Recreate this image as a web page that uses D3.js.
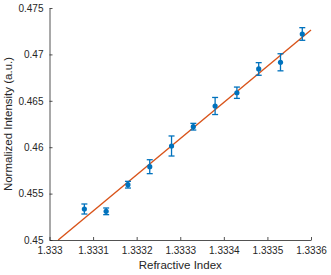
<!DOCTYPE html>
<html>
<head>
<meta charset="utf-8">
<script src="https://cdn.jsdelivr.net/npm/d3@7"></script>
<style>
  body { margin: 0; background: #fff; }
  svg { display: block; font-family: "Liberation Sans", Arial, sans-serif; }
  .axis path, .axis line { stroke: #262626; }
  .axis text { fill: #262626; font-size: 10px; }
  .label { fill: #262626; font-size: 11.5px; }
</style>
</head>
<body>
<div class="chart-container"></div>
<script>
// measured data
var refIndex = [1.33308, 1.33313, 1.33318, 1.33323, 1.33328, 1.33333, 1.33338, 1.33343, 1.33348, 1.33353, 1.33358];
var intensity = [0.45334, 0.45309, 0.45596, 0.45790, 0.46013, 0.46221, 0.46444, 0.46587, 0.46843, 0.46915, 0.47220];
var errors = [0.00054, 0.00036, 0.00036, 0.00075, 0.00108, 0.00036, 0.00092, 0.00061, 0.00068, 0.00092, 0.00068];

// linear fit endpoints
var fitX = [1.33302, 1.3336];
var fitY = [0.45, 0.47263];

var xTicks = [1.333, 1.3331, 1.3332, 1.3333, 1.3334, 1.3335, 1.3336];
var yTicks = [0.45, 0.455, 0.46, 0.465, 0.47, 0.475];

var width = 331;
var height = 275;
var margin = { top: 8, right: 20, bottom: 35, left: 49.5 };

var svg = d3.select('.chart-container').append('svg')
  .attr('width', width)
  .attr('height', height);

var x = d3.scaleLinear()
  .domain([1.333, 1.3336])
  .range([margin.left, width - margin.right]);

var y = d3.scaleLinear()
  .domain([0.45, 0.475])
  .range([height - margin.bottom, margin.top]);

// fit line
var line = d3.line()
  .x(function (d) { return x(d[0]); })
  .y(function (d) { return y(d[1]); });

svg.append('path')
  .datum(fitX.map(function (v, i) { return [v, fitY[i]]; }))
  .attr('d', line)
  .attr('fill', 'none')
  .attr('stroke', '#D95319')
  .attr('stroke-width', 1.4);

// error bars
var pts = refIndex.map(function (v, i) {
  return { x: v, y: intensity[i], e: errors[i] };
});

var eb = svg.append('g')
  .attr('stroke', '#0072BD')
  .attr('stroke-width', 1.3);

eb.selectAll('.vbar')
  .data(pts)
  .enter().append('line')
    .attr('x1', function (d) { return x(d.x); })
    .attr('x2', function (d) { return x(d.x); })
    .attr('y1', function (d) { return y(d.y - d.e); })
    .attr('y2', function (d) { return y(d.y + d.e); });

[-1, 1].forEach(function (s) {
  eb.selectAll('.cap' + s)
    .data(pts)
    .enter().append('line')
      .attr('x1', function (d) { return x(d.x) - 3; })
      .attr('x2', function (d) { return x(d.x) + 3; })
      .attr('y1', function (d) { return y(d.y + s * d.e); })
      .attr('y2', function (d) { return y(d.y + s * d.e); });
});

svg.append('g').selectAll('circle')
  .data(pts)
  .enter().append('circle')
    .attr('cx', function (d) { return x(d.x); })
    .attr('cy', function (d) { return y(d.y); })
    .attr('r', 2.6)
    .attr('fill', '#0072BD');

// axes (ticks inside like matlab)
var xAxis = svg.append('g')
  .attr('class', 'axis')
  .attr('transform', 'translate(0,' + (height - margin.bottom) + ')')
  .call(d3.axisBottom(x).tickValues(xTicks).tickSizeInner(-3).tickSizeOuter(0)
    .tickPadding(7).tickFormat(d3.format('')));
xAxis.selectAll('text').attr('dy', '0.71em');

var yAxis = svg.append('g')
  .attr('class', 'axis')
  .attr('transform', 'translate(' + margin.left + ',0)')
  .call(d3.axisLeft(y).tickValues(yTicks).tickSizeInner(-3).tickSizeOuter(0)
    .tickPadding(6).tickFormat(d3.format('')));

svg.selectAll('.domain').attr('stroke-width', 0.8);
svg.selectAll('.tick line').attr('stroke-width', 0.8);

svg.append('text')
  .attr('class', 'label')
  .attr('x', (margin.left + width - margin.right) / 2)
  .attr('y', 269)
  .attr('text-anchor', 'middle')
  .text('Refractive Index');

svg.append('text')
  .attr('class', 'label')
  .attr('transform', 'translate(12,' + (height - margin.bottom + margin.top) / 2 + ') rotate(-90)')
  .attr('text-anchor', 'middle')
  .text('Normalized Intensity (a.u.)');
</script>
</body>
</html>
